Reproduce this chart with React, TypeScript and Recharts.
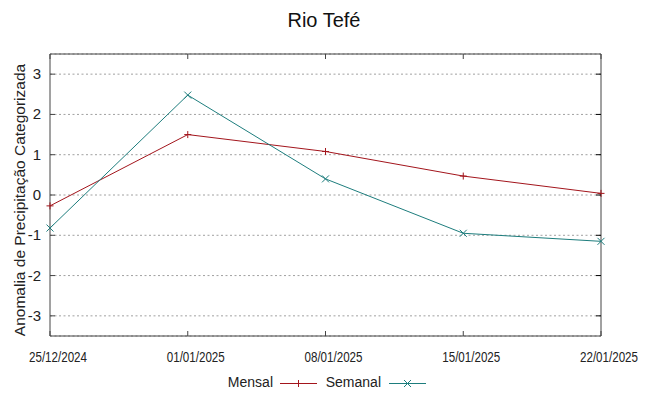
import { LineChart, Line, XAxis, YAxis, CartesianGrid, ReferenceArea } from "recharts";

const dates = ["25/12/2024", "01/01/2025", "08/01/2025", "15/01/2025", "22/01/2025"];
const mensal = [-0.27, 1.5, 1.08, 0.47, 0.04];
const semanal = [-0.82, 2.48, 0.4, -0.95, -1.15];
const yTicks = [-3, -2, -1, 0, 1, 2, 3];

const data = dates.map((d, i) => ({ date: d, Mensal: mensal[i], Semanal: semanal[i] }));

const W = 649;
const H = 396;
const LEFT = 50;
const RIGHT = 601;
const TOP = 54;
const BOTTOM = 336;
const FONT = "'Liberation Sans', Arial, sans-serif";
const RED = "#a3151c";
const TEAL = "#1d7d7d";
const FRAME = "#444";

function XTick(props: any) {
  const { x, payload } = props;
  return (
    <g>
      <line x1={x} x2={x} y1={BOTTOM} y2={BOTTOM - 5} stroke={FRAME} />
      <line x1={x} x2={x} y1={TOP} y2={TOP + 5} stroke={FRAME} />
      <text
        transform={`translate(${x + 8}, ${BOTTOM + 25.5}) scale(0.8, 1)`}
        textAnchor="middle"
        fontSize={14.5}
        fill="#222"
        fontFamily={FONT}
      >
        {payload.value}
      </text>
    </g>
  );
}

function YTick(props: any) {
  const { y, payload } = props;
  return (
    <g>
      <line x1={LEFT} x2={LEFT + 5} y1={y} y2={y} stroke={FRAME} />
      <line x1={RIGHT - 5} x2={RIGHT} y1={y} y2={y} stroke="#000" />
      <text x={LEFT - 9} y={y + 5} textAnchor="end" fontSize={15} fill="#222" fontFamily={FONT}>
        {payload.value}
      </text>
    </g>
  );
}

function PlusDot(props: any) {
  const { cx, cy } = props;
  const s = 3.5;
  return (
    <g stroke={RED} strokeWidth={1}>
      <line x1={cx - s} x2={cx + s} y1={cy} y2={cy} />
      <line x1={cx} x2={cx} y1={cy - s} y2={cy + s} />
    </g>
  );
}

function CrossDot(props: any) {
  const { cx, cy } = props;
  const s = 3.5;
  return (
    <g stroke={TEAL} strokeWidth={1}>
      <line x1={cx - s} x2={cx + s} y1={cy - s} y2={cy + s} />
      <line x1={cx - s} x2={cx + s} y1={cy + s} y2={cy - s} />
    </g>
  );
}

export default function App() {
  return (
    <div style={{ position: "fixed", left: 0, top: 0, width: W, height: H, background: "#fff" }}>
      <LineChart
        width={W}
        height={H}
        data={data}
        margin={{ top: TOP, right: W - RIGHT, bottom: 0, left: 0 }}
      >
        <CartesianGrid vertical={false} stroke="#a0a0a0" strokeDasharray="2 2.5" />
        <XAxis
          dataKey="date"
          height={H - BOTTOM}
          axisLine={false}
          tickLine={false}
          tick={(p: any) => <XTick {...p} />}
          interval={0}
        />
        <YAxis
          width={LEFT}
          domain={[-3.5, 3.5]}
          ticks={yTicks}
          axisLine={false}
          tickLine={false}
          tick={(p: any) => <YTick {...p} />}
        />
        <ReferenceArea
          x1={dates[0]}
          x2={dates[dates.length - 1]}
          y1={-3.5}
          y2={3.5}
          fill="none"
          fillOpacity={0}
          stroke={FRAME}
          strokeWidth={1}
        />
        <Line
          dataKey="Mensal"
          stroke={RED}
          strokeWidth={1}
          dot={(p: any) => <PlusDot key={p.index} {...p} />}
          activeDot={false}
          isAnimationActive={false}
        />
        <Line
          dataKey="Semanal"
          stroke={TEAL}
          strokeWidth={1}
          dot={(p: any) => <CrossDot key={p.index} {...p} />}
          activeDot={false}
          isAnimationActive={false}
        />
      </LineChart>
      <svg width={W} height={H} style={{ position: "absolute", left: 0, top: 0, pointerEvents: "none" }}>
        <text x={324} y={27} textAnchor="middle" fontSize={20} fill="#111" fontFamily={FONT}>
          Rio Tefé
        </text>
        <text
          x={25}
          y={200}
          transform="rotate(-90 25 200)"
          textAnchor="middle"
          fontSize={15.5}
          fill="#222"
          fontFamily={FONT}
        >
          Anomalia de Precipitação Categorizada
        </text>
        <text x={273} y={387} textAnchor="end" fontSize={14} fill="#222" fontFamily={FONT}>
          Mensal
        </text>
        <line x1={280} x2={317} y1={383.5} y2={383.5} stroke={RED} />
        <PlusDot cx={298.5} cy={383.5} />
        <text x={381} y={387} textAnchor="end" fontSize={14} fill="#222" fontFamily={FONT}>
          Semanal
        </text>
        <line x1={389} x2={426} y1={383.5} y2={383.5} stroke={TEAL} />
        <CrossDot cx={407.5} cy={383.5} />
      </svg>
    </div>
  );
}
